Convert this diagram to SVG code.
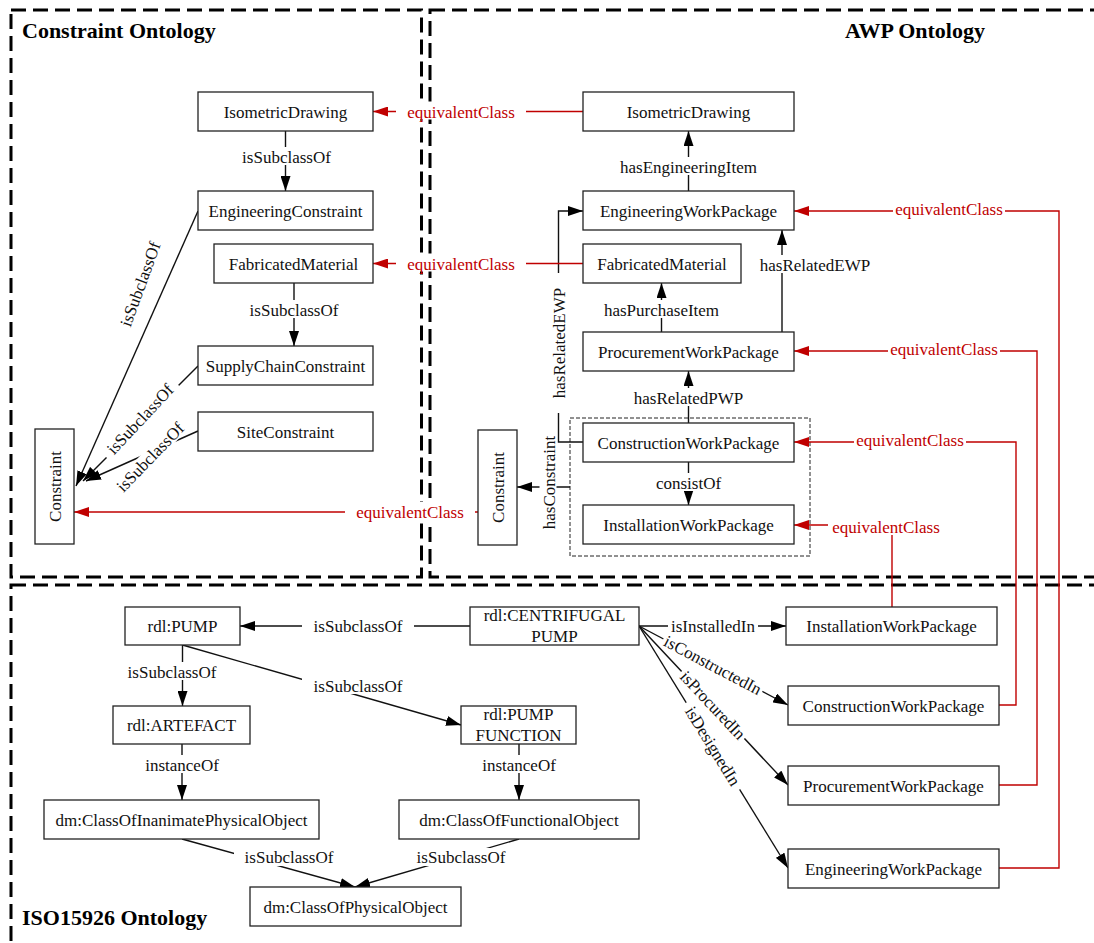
<svg xmlns="http://www.w3.org/2000/svg" width="1094" height="943" viewBox="0 0 1094 943">
<defs>
<style>
.n rect{fill:#fff;stroke:#222;stroke-width:1.3}
.t{font-family:"Liberation Serif","Times New Roman",serif;font-size:17px;fill:#111;text-anchor:middle}
.title{font-family:"Liberation Serif","Times New Roman",serif;font-size:22px;font-weight:bold;fill:#000}
.e{fill:none;stroke:#111;stroke-width:1.4}
.r{fill:none;stroke:#c00000;stroke-width:1.4}
.lb{font-family:"Liberation Serif","Times New Roman",serif;font-size:17px;fill:#111;text-anchor:middle}
.lr{font-family:"Liberation Serif","Times New Roman",serif;font-size:17px;fill:#c00000;text-anchor:middle}
.bg{fill:#fff}
.frame{fill:none;stroke:#000;stroke-width:3;stroke-dasharray:15 7}
.box{fill:none;stroke:#222;stroke-width:1;stroke-dasharray:4 2}
</style>
<marker id="ab" markerUnits="userSpaceOnUse" markerWidth="15" markerHeight="10" refX="15" refY="5" orient="auto"><path d="M0,0L15,5L0,10z" fill="#000"/></marker>
<marker id="ar" markerUnits="userSpaceOnUse" markerWidth="15" markerHeight="10" refX="15" refY="5" orient="auto"><path d="M0,0L15,5L0,10z" fill="#c00000"/></marker>
</defs>
<rect width="1094" height="943" fill="#fff"/>
<g id="frames">
<rect class="frame" x="11" y="10" width="410.5" height="567"/>
<rect class="frame" x="430" y="10" width="700" height="567"/>
<rect class="frame" x="11" y="585" width="1120" height="400"/>
<text class="title" x="22" y="38">Constraint Ontology</text>
<text class="title" x="845" y="38">AWP Ontology</text>
<text class="title" x="22" y="925">ISO15926 Ontology</text>
</g>
<g id="cwp-group"><rect class="box" x="570" y="418" width="240" height="138"/></g>
<g id="connectors">
<path class="e" d="M285.5,131V191" marker-end="url(#ab)"/>
<path class="e" d="M294,283V346" marker-end="url(#ab)"/>
<path class="e" d="M198,211L76,486" marker-end="url(#ab)"/>
<path class="e" d="M198,366L83,481" marker-end="url(#ab)"/>
<path class="e" d="M198,431L86,481" marker-end="url(#ab)"/>
<path class="e" d="M688.5,191V131" marker-end="url(#ab)"/>
<path class="e" d="M661.5,332V283" marker-end="url(#ab)"/>
<path class="e" d="M782,332V230" marker-end="url(#ab)"/>
<path class="e" d="M688.5,423V371" marker-end="url(#ab)"/>
<path class="e" d="M688.5,462V505" marker-end="url(#ab)"/>
<path class="e" d="M583,442H558.5V211H583" marker-end="url(#ab)"/>
<path class="e" d="M570,487H517" marker-end="url(#ab)"/>
<path class="r" d="M583,111.5H373" marker-end="url(#ar)"/>
<path class="r" d="M583,263.5H373" marker-end="url(#ar)"/>
<path class="r" d="M478,512H74" marker-end="url(#ar)"/>
<path class="r" d="M999,868H1059V211H794" marker-end="url(#ar)"/>
<path class="r" d="M999,785H1037V351H794" marker-end="url(#ar)"/>
<path class="r" d="M999,705H1016V442H794" marker-end="url(#ar)"/>
<path class="r" d="M892,607V525H794" marker-end="url(#ar)"/>
<path class="e" d="M470,626H240" marker-end="url(#ab)"/>
<path class="e" d="M182.5,645V706" marker-end="url(#ab)"/>
<path class="e" d="M182.5,645L461,725" marker-end="url(#ab)"/>
<path class="e" d="M182,744V800" marker-end="url(#ab)"/>
<path class="e" d="M519,744V800" marker-end="url(#ab)"/>
<path class="e" d="M182,839L355,887" marker-end="url(#ab)"/>
<path class="e" d="M519,839L355,887" marker-end="url(#ab)"/>
<path class="e" d="M639,626H786" marker-end="url(#ab)"/>
<path class="e" d="M639,626L788,705" marker-end="url(#ab)"/>
<path class="e" d="M639,626L788,785" marker-end="url(#ab)"/>
<path class="e" d="M639,626L788,868" marker-end="url(#ab)"/>
<g transform="translate(286.5,157)"><rect class="bg" x="-55" y="-10" width="110" height="18"/><text class="lb" y="6">isSubclassOf</text></g>
<g transform="translate(294,310)"><rect class="bg" x="-55" y="-10" width="110" height="18"/><text class="lb" y="6">isSubclassOf</text></g>
<g transform="translate(140,284) rotate(-70)"><text class="lb" y="6">isSubclassOf</text></g>
<g transform="translate(140,419) rotate(-47)"><rect class="bg" x="-51" y="-8" width="102" height="16"/><text class="lb" y="6">isSubclassOf</text></g>
<g transform="translate(150,457) rotate(-46)"><rect class="bg" x="-51" y="-8" width="102" height="16"/><text class="lb" y="6">isSubclassOf</text></g>
<g transform="translate(688.5,167)"><rect class="bg" x="-70" y="-10" width="140" height="18"/><text class="lb" y="6">hasEngineeringItem</text></g>
<g transform="translate(661.5,310)"><rect class="bg" x="-60" y="-10" width="120" height="18"/><text class="lb" y="6">hasPurchaseItem</text></g>
<g transform="translate(815,265)"><rect class="bg" x="-62" y="-10" width="124" height="18"/><text class="lb" y="6">hasRelatedEWP</text></g>
<g transform="translate(688.5,398)"><rect class="bg" x="-61" y="-10" width="122" height="18"/><text class="lb" y="6">hasRelatedPWP</text></g>
<g transform="translate(688.5,483)"><rect class="bg" x="-35" y="-10" width="70" height="18"/><text class="lb" y="6">consistOf</text></g>
<g transform="translate(558.5,343) rotate(-90)"><rect class="bg" x="-70" y="-9" width="140" height="17"/><text class="lb" y="6">hasRelatedEWP</text></g>
<g transform="translate(548.5,482.5) rotate(-90)"><rect class="bg" x="-50" y="-9" width="100" height="17"/><text class="lb" y="6">hasConstraint</text></g>
<g transform="translate(461,111.5)"><rect class="bg" x="-65" y="-10" width="130" height="18"/><text class="lr" y="6">equivalentClass</text></g>
<g transform="translate(461,263.5)"><rect class="bg" x="-65" y="-10" width="130" height="18"/><text class="lr" y="6">equivalentClass</text></g>
<g transform="translate(410,512)"><rect class="bg" x="-65" y="-10" width="130" height="18"/><text class="lr" y="6">equivalentClass</text></g>
<g transform="translate(949,209)"><rect class="bg" x="-56" y="-8" width="112" height="14"/><text class="lr" y="6">equivalentClass</text></g>
<g transform="translate(944,349)"><rect class="bg" x="-56" y="-8" width="112" height="14"/><text class="lr" y="6">equivalentClass</text></g>
<g transform="translate(910,440)"><rect class="bg" x="-56" y="-8" width="112" height="14"/><text class="lr" y="6">equivalentClass</text></g>
<g transform="translate(886,527)"><rect class="bg" x="-58" y="-10" width="116" height="18"/><text class="lr" y="6">equivalentClass</text></g>
<g transform="translate(358,626)"><rect class="bg" x="-56" y="-10" width="112" height="18"/><text class="lb" y="6">isSubclassOf</text></g>
<g transform="translate(172,672)"><rect class="bg" x="-48" y="-10" width="96" height="18"/><text class="lb" y="6">isSubclassOf</text></g>
<g transform="translate(358,686)"><rect class="bg" x="-56" y="-10" width="112" height="18"/><text class="lb" y="6">isSubclassOf</text></g>
<g transform="translate(182,765)"><rect class="bg" x="-40" y="-10" width="80" height="18"/><text class="lb" y="6">instanceOf</text></g>
<g transform="translate(519,765)"><rect class="bg" x="-40" y="-10" width="80" height="18"/><text class="lb" y="6">instanceOf</text></g>
<g transform="translate(289,857)"><rect class="bg" x="-55" y="-9" width="110" height="18"/><text class="lb" y="6">isSubclassOf</text></g>
<g transform="translate(461,857)"><rect class="bg" x="-55" y="-9" width="110" height="18"/><text class="lb" y="6">isSubclassOf</text></g>
<g transform="translate(713,626)"><rect class="bg" x="-45" y="-8" width="90" height="16"/><text class="lb" y="6">isInstalledIn</text></g>
<g transform="translate(713,665) rotate(27.9)"><rect class="bg" x="-56" y="-7" width="112" height="14"/><text class="lb" y="6">isConstructedIn</text></g>
<g transform="translate(713,705) rotate(46.9)"><rect class="bg" x="-46" y="-7" width="92" height="14"/><text class="lb" y="6">isProcuredIn</text></g>
<g transform="translate(713,746) rotate(58.4)"><rect class="bg" x="-51" y="-7" width="102" height="14"/><text class="lb" y="6">isDesignedIn</text></g>
</g>
<g id="c-isometric" class="n"><rect x="198" y="92" width="175" height="39"/><text class="t" x="285.5" y="117.5">IsometricDrawing</text></g>
<g id="c-engineering" class="n"><rect x="198" y="191" width="175" height="39"/><text class="t" x="285.5" y="216.5">EngineeringConstraint</text></g>
<g id="c-fabricated" class="n"><rect x="214" y="244" width="159" height="39"/><text class="t" x="293.5" y="269.5">FabricatedMaterial</text></g>
<g id="c-supply" class="n"><rect x="198" y="346" width="175" height="39"/><text class="t" x="285.5" y="371.5">SupplyChainConstraint</text></g>
<g id="c-site" class="n"><rect x="198" y="412" width="175" height="39"/><text class="t" x="285.5" y="437.5">SiteConstraint</text></g>
<g id="c-constraint" class="n"><rect x="35" y="429" width="39" height="115"/><text class="t" transform="translate(54.5,486.5) rotate(-90)" y="6">Constraint</text></g>
<g id="a-isometric" class="n"><rect x="583" y="92" width="211" height="39"/><text class="t" x="688.5" y="117.5">IsometricDrawing</text></g>
<g id="a-ewp" class="n"><rect x="583" y="191" width="211" height="39"/><text class="t" x="688.5" y="216.5">EngineeringWorkPackage</text></g>
<g id="a-fabricated" class="n"><rect x="583" y="244" width="158" height="39"/><text class="t" x="662" y="269.5">FabricatedMaterial</text></g>
<g id="a-pwp" class="n"><rect x="583" y="332" width="211" height="39"/><text class="t" x="688.5" y="357.5">ProcurementWorkPackage</text></g>
<g id="a-cwp" class="n"><rect x="583" y="423" width="211" height="39"/><text class="t" x="688.5" y="448.5">ConstructionWorkPackage</text></g>
<g id="a-iwp" class="n"><rect x="583" y="505" width="211" height="39"/><text class="t" x="688.5" y="530.5">InstallationWorkPackage</text></g>
<g id="a-constraint" class="n"><rect x="478" y="430" width="39" height="115"/><text class="t" transform="translate(497.5,487.5) rotate(-90)" y="6">Constraint</text></g>
<g id="i-pump" class="n"><rect x="125" y="607" width="115" height="38"/><text class="t" x="182.5" y="632">rdl:PUMP</text></g>
<g id="i-artefact" class="n"><rect x="113" y="706" width="137" height="38"/><text class="t" x="181.5" y="731">rdl:ARTEFACT</text></g>
<g id="i-inanimate" class="n"><rect x="44" y="800" width="275" height="39"/><text class="t" x="181.5" y="825.5">dm:ClassOfInanimatePhysicalObject</text></g>
<g id="i-physical" class="n"><rect x="250" y="887" width="211" height="39"/><text class="t" x="355.5" y="912.5">dm:ClassOfPhysicalObject</text></g>
<g id="i-centrifugal" class="n"><rect x="470" y="607" width="169" height="38"/><text class="t" x="554.5" y="621">rdl:CENTRIFUGAL</text><text class="t" x="554.5" y="642">PUMP</text></g>
<g id="i-pumpfunction" class="n"><rect x="461" y="706" width="115" height="38"/><text class="t" x="518.5" y="720">rdl:PUMP</text><text class="t" x="518.5" y="741">FUNCTION</text></g>
<g id="i-functional" class="n"><rect x="399" y="800" width="240" height="39"/><text class="t" x="519" y="825.5">dm:ClassOfFunctionalObject</text></g>
<g id="i-iwp" class="n"><rect x="786" y="607" width="211" height="38"/><text class="t" x="891.5" y="632">InstallationWorkPackage</text></g>
<g id="i-cwp" class="n"><rect x="788" y="686" width="211" height="39"/><text class="t" x="893.5" y="711.5">ConstructionWorkPackage</text></g>
<g id="i-pwp" class="n"><rect x="788" y="766" width="211" height="39"/><text class="t" x="893.5" y="791.5">ProcurementWorkPackage</text></g>
<g id="i-ewp" class="n"><rect x="788" y="849" width="211" height="39"/><text class="t" x="893.5" y="874.5">EngineeringWorkPackage</text></g>
</svg>
